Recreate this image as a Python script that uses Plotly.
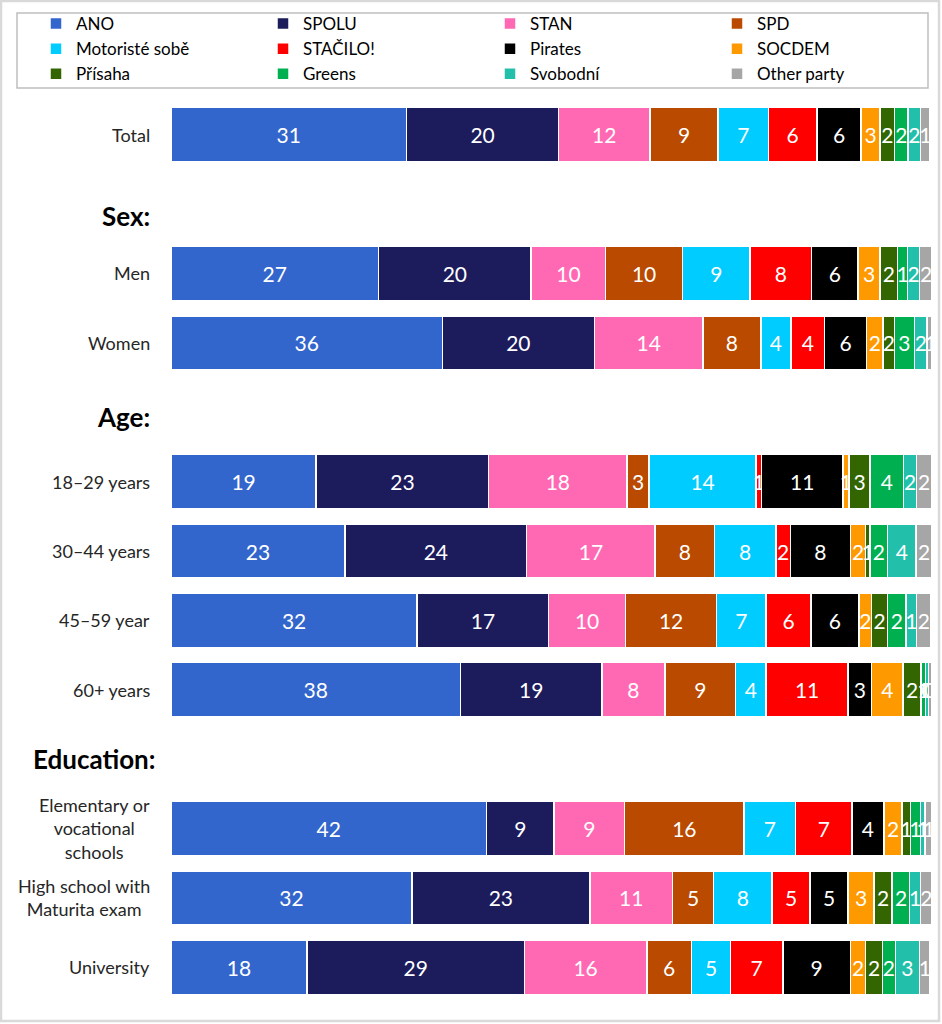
import plotly.graph_objects as go

# groups of rows as they appear top to bottom (header text, row labels)
sections = [
    ("", ["Total"]),
    ("Sex:", ["Men", "Women"]),
    ("Age:", ["18–29 years", "30–44 years", "45–59 year", "60+ years"]),
    ("Education:", ["Elementary or<br>vocational<br>schools",
                    "High school with<br>Maturita exam", "University"]),
]

parties = ["ANO", "SPOLU", "STAN", "SPD", "Motoristé sobě", "STAČILO!",
           "Pirates", "SOCDEM", "Přísaha", "Greens", "Svobodní", "Other party"]

# shares (%) per row: Total, Men, Women, 18-29, 30-44, 45-59, 60+, Elem, High, Univ
ano = [31.0, 27.3, 35.7, 19.1, 22.9, 32.4, 38.1, 41.5, 31.7, 17.9]
spolu = [20.0, 20.1, 20.0, 22.7, 23.9, 17.3, 18.6, 8.9, 23.4, 28.6]
stan = [12.0, 9.8, 14.3, 18.2, 16.9, 10.1, 8.3, 9.3, 10.9, 16.1]
spd = [9.0, 10.1, 7.6, 2.9, 7.8, 12.0, 9.3, 15.7, 5.4, 5.9]
motoriste = [6.6, 8.9, 4.0, 14.1, 8.1, 6.5, 4.0, 6.8, 7.7, 5.1]
stacilo = [6.4, 8.1, 4.4, 0.7, 1.9, 5.9, 10.8, 7.4, 5.0, 6.9]
pirates = [5.8, 6.1, 5.5, 10.7, 7.9, 6.3, 3.1, 4.2, 5.0, 8.9]
socdem = [2.5, 2.9, 2.2, 0.8, 2.0, 1.7, 4.1, 2.4, 3.4, 2.0]
prisaha = [1.9, 2.3, 1.5, 2.8, 0.6, 2.1, 2.4, 1.1, 2.4, 2.2]
greens = [1.8, 1.3, 2.6, 4.4, 2.3, 2.4, 0.6, 1.3, 2.3, 1.7]
svobodni = [1.6, 1.6, 1.7, 1.7, 3.7, 1.4, 0.4, 0.6, 1.4, 3.2]
other = [1.3, 1.7, 0.9, 2.0, 2.2, 1.9, 0.4, 1.0, 1.6, 1.4]

series = [ano, spolu, stan, spd, motoriste, stacilo, pirates, socdem,
          prisaha, greens, svobodni, other]

colors = ["#3366cc", "#1c1b5c", "#ff69b4", "#b94a00", "#00ccff", "#ff0000",
          "#000000", "#ff9900", "#336600", "#00b050", "#22bfaa", "#a6a6a6"]

FONT = "Lato, 'Noto Sans', sans-serif"
W, H = 942, 1024
ML, MR, MT, MB = 171, 11, 100, 22

# y slot for every row, headers take a slot of their own
row_y, header_y = [], []
slot = 0
for header, rows in sections:
    if header:
        header_y.append((header, slot))
        slot += 1
    for r in rows:
        row_y.append((r, slot))
        slot += 1

ys = [y for _, y in row_y]

fig = go.Figure()
for name, vals, col in zip(parties, series, colors):
    fig.add_trace(go.Bar(
        x=vals, y=ys, name=name, orientation="h",
        marker=dict(color=col, line=dict(color="white", width=1.5)),
        width=0.78,
        texttemplate="%{x:.0f}", textposition="inside",
        insidetextanchor="middle", textangle=0,
        textfont=dict(color="white", size=21, family=FONT),
    ))

annotations = []
for label, y in row_y:
    annotations.append(dict(
        text=label, x=0, y=y, xref="paper", yref="y", xanchor="right",
        yanchor="middle", align="center", xshift=-19, showarrow=False,
        font=dict(size=18, color="#262626", family=FONT)))
header_shift = {"Sex:": 0.17, "Age:": 0.07, "Education:": 0.0}
for label, y in header_y:
    annotations.append(dict(
        text="<b>" + label + "</b>", x=0, y=y + header_shift.get(label, 0),
        xref="paper", yref="y", xanchor="right", yanchor="middle",
        xshift=-14 if label == "Education:" else -19, showarrow=False,
        font=dict(size=26, color="black", family=FONT)))

pw, ph = W - ML - MR, H - MT - MB


def px_x(px):
    return (px - ML) / pw


def px_y(py):
    return (H - MB - py) / ph


shapes = [
    # legend box
    dict(type="rect", xref="paper", yref="paper",
         x0=px_x(17), x1=px_x(928), y0=px_y(88), y1=px_y(13),
         line=dict(color="#bfbfbf", width=1.5), fillcolor="rgba(0,0,0,0)"),
    # outer frame
    dict(type="rect", xref="paper", yref="paper",
         x0=px_x(1), x1=px_x(939), y0=px_y(1021), y1=px_y(1),
         line=dict(color="#d9d9d9", width=2.5), fillcolor="rgba(0,0,0,0)"),
]

fig.update_layout(
    width=W, height=H,
    barmode="stack",
    margin=dict(l=ML, r=MR, t=MT, b=MB, autoexpand=False),
    paper_bgcolor="white", plot_bgcolor="white",
    font=dict(family=FONT, color="black"),
    uniformtext=dict(minsize=21, mode="show"),
    xaxis=dict(range=[0, 100], visible=False, fixedrange=True),
    yaxis=dict(range=[slot - 0.5, -0.5], visible=False, fixedrange=True),
    legend=dict(orientation="h", traceorder="normal",
                x=px_x(36), y=px_y(6), xanchor="left", yanchor="top",
                entrywidth=182, entrywidthmode="pixels",
                font=dict(size=17, family=FONT, color="black"),
                bgcolor="rgba(0,0,0,0)", itemclick=False,
                tracegroupgap=0),
    annotations=annotations,
    shapes=shapes,
    showlegend=True,
)

# drop the page's default margins so the figure sits at the top-left corner
page_css = """
document.documentElement.style.margin = '0';
document.documentElement.style.padding = '0';
document.body.style.margin = '0';
document.body.style.padding = '0';
document.body.style.overflow = 'hidden';
"""
fig.write_html("out.html", config={"displayModeBar": False},
               post_script=page_css)
